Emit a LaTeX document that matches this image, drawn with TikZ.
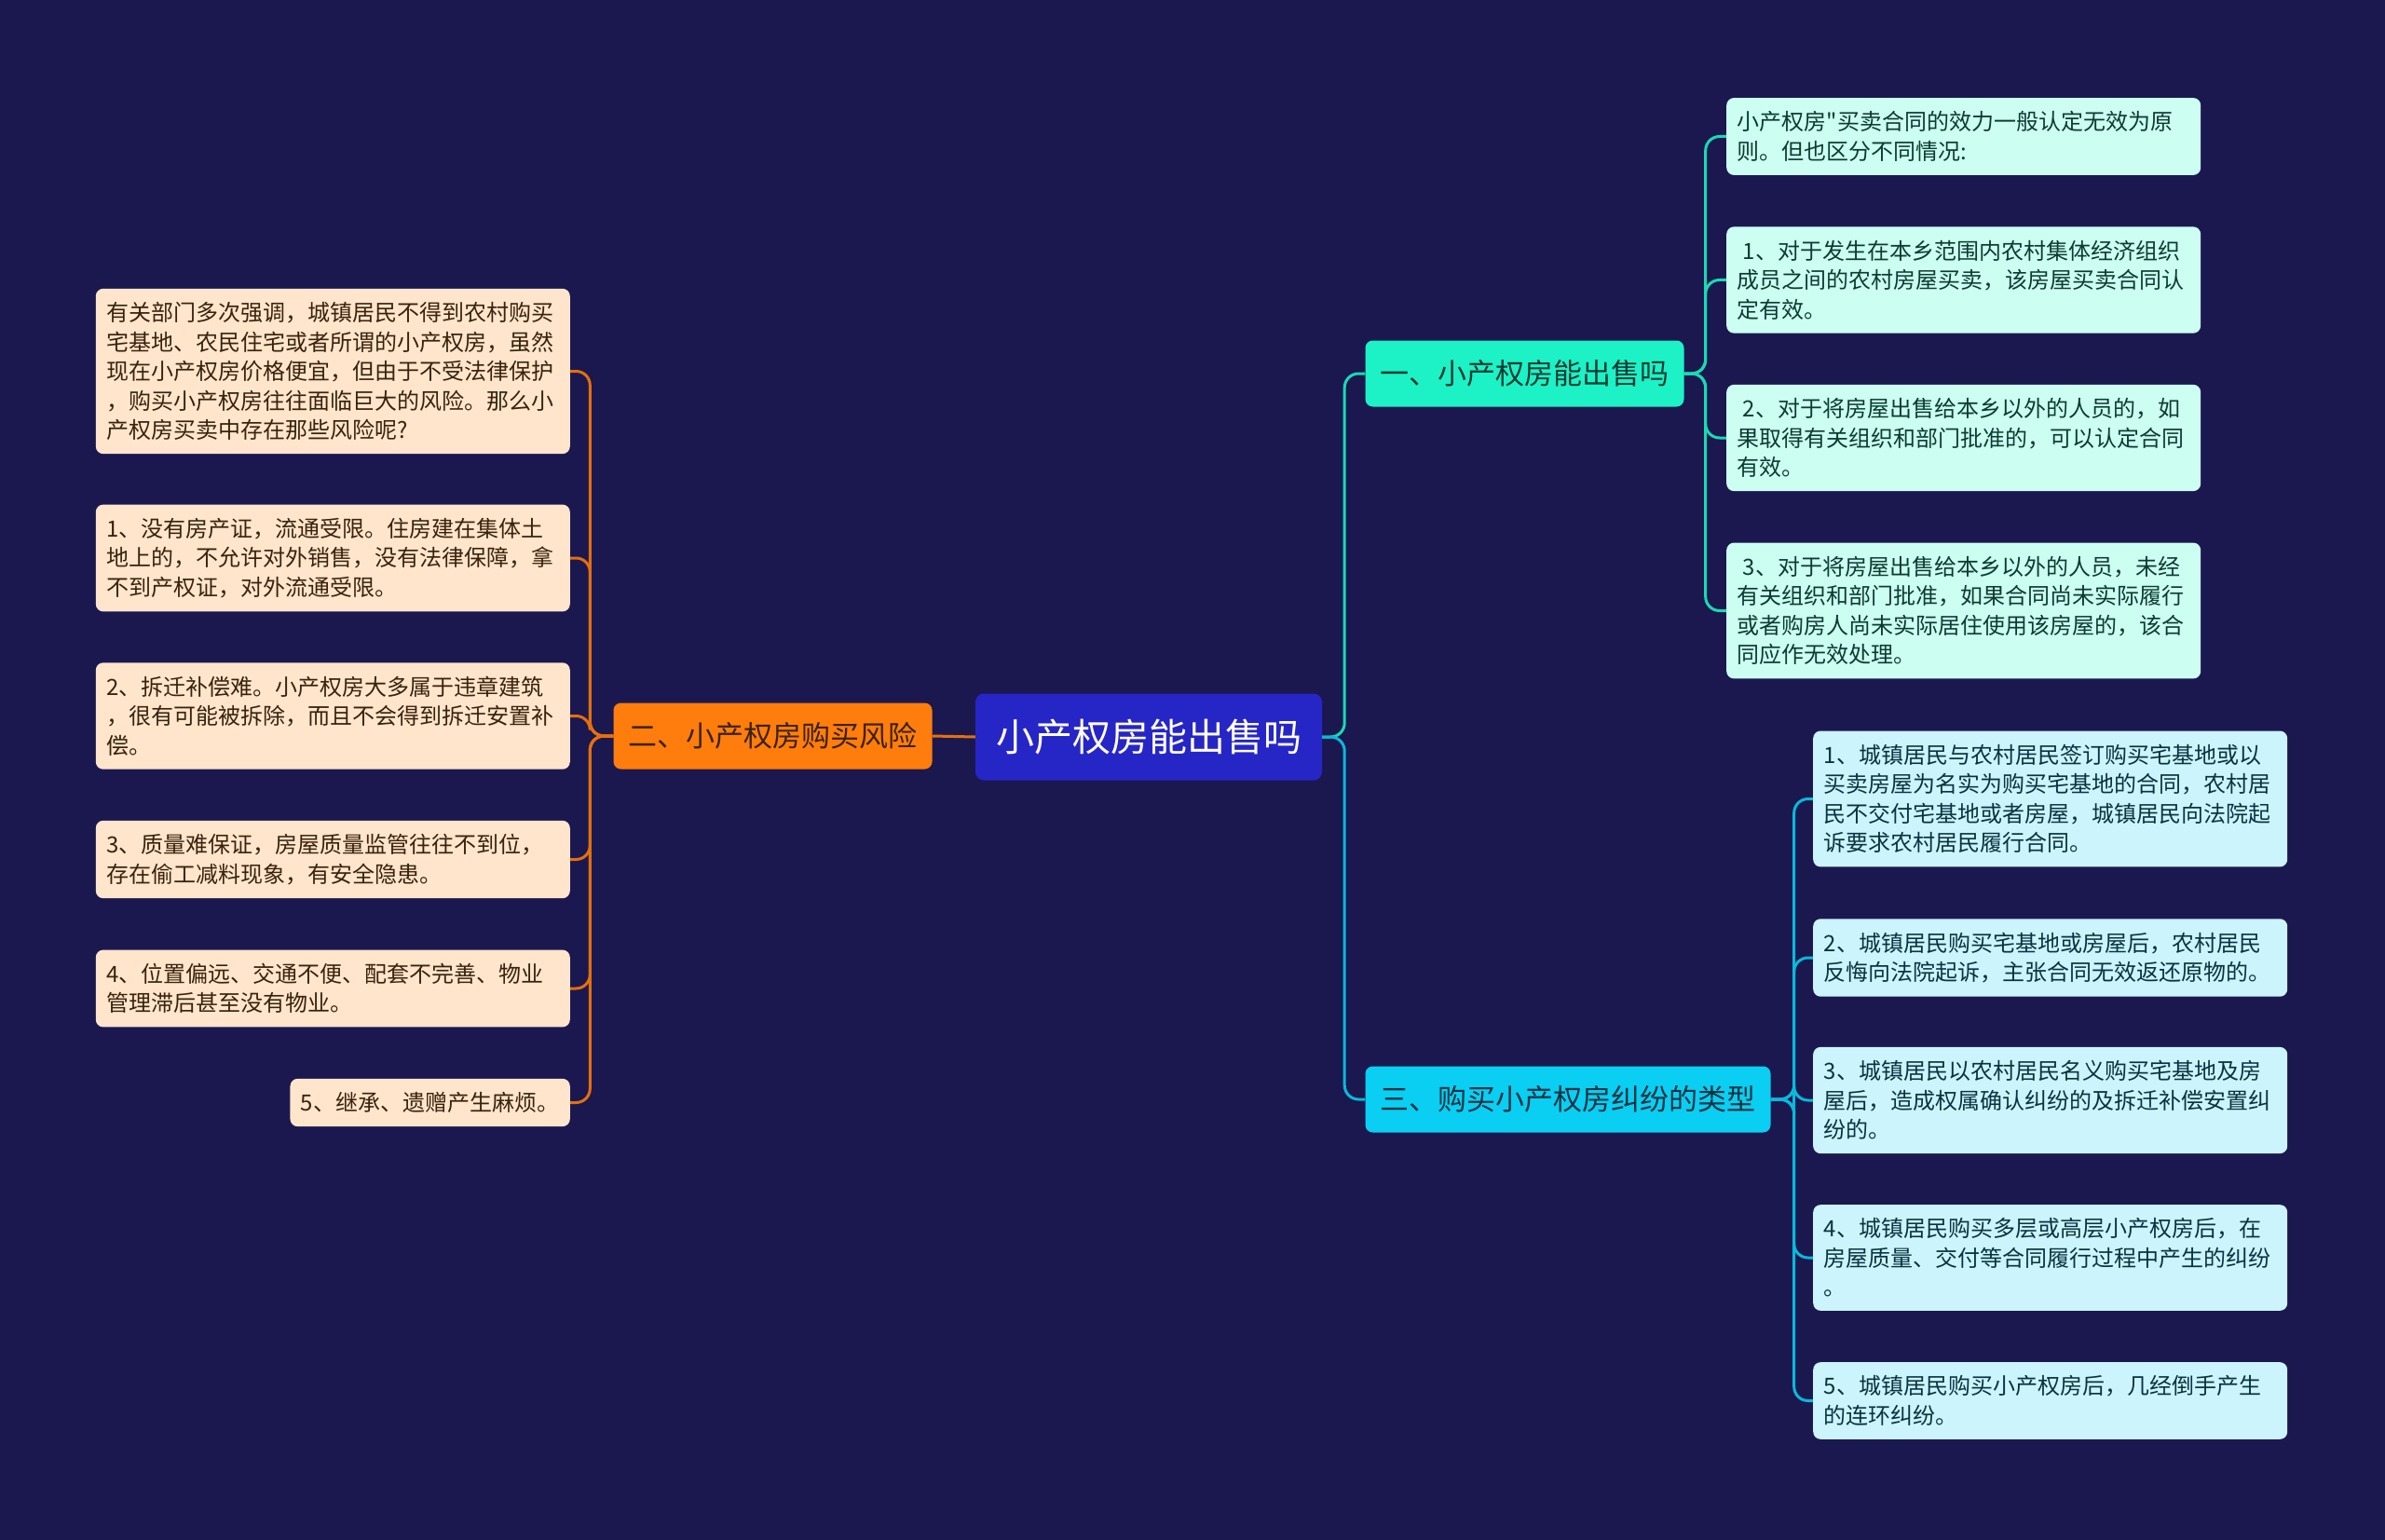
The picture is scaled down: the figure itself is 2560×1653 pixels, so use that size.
\documentclass[tikz,border=0pt]{standalone}
\usepackage{fontspec}
\newfontfamily\cjk{Noto Sans CJK SC}
\definecolor{bg}{HTML}{1B1850}
\definecolor{rootblue}{HTML}{2626C6}
\definecolor{riskorange}{HTML}{FF7D0C}
\definecolor{saleteal}{HTML}{1CF2C6}
\definecolor{typecyan}{HTML}{0ACEF2}
\definecolor{peach}{HTML}{FFE5CC}
\definecolor{mint}{HTML}{CCFFF2}
\definecolor{icecyan}{HTML}{CCF4FC}
\definecolor{browntext}{HTML}{3A220C}
\definecolor{greentext}{HTML}{0D3B32}
\definecolor{bluetext}{HTML}{0A3341}

\begin{document}
\begin{tikzpicture}[x=1pt, y=-1pt,
    root/.style={fill=rootblue, text=white, rounded corners=9pt, inner xsep=22pt,
        minimum height=93pt, font=\cjk\fontsize{41}{45}\selectfont},
    branch/.style={rounded corners=8pt, inner xsep=16pt, minimum height=71pt,
        font=\cjk\fontsize{31}{35}\selectfont},
    leafbox/.style={rounded corners=8pt, inner xsep=11.5pt, inner ysep=14.5pt,
        align=left, font=\cjk\fontsize{24}{31.5}\selectfont},
    wide/.style={leafbox, text width=486pt},
    riskleaf/.style={wide, fill=peach, text=browntext},
    saleleaf/.style={wide, fill=mint, text=greentext},
    typeleaf/.style={wide, fill=icecyan, text=bluetext},
    link/.style={line width=3pt, rounded corners=15pt}
]
    \fill[bg] (0,0) rectangle (2560,1653);

    % centre and first level
    \node[root] (root) at (1233,791) {小产权房能出售吗};
    \node[branch, fill=riskorange, text=browntext] (risk) at (829.5,790) {二、小产权房购买风险};
    \node[branch, fill=saleteal, text=greentext] (sale) at (1636.5,401) {一、小产权房能出售吗};
    \node[branch, fill=typecyan, text=bluetext] (kinds) at (1683,1180) {三、购买小产权房纠纷的类型};

    % left: risks
    \node[riskleaf, anchor=east] (risk0) at (612,398.5) {有关部门多次强调，城镇居民不得到农村购买\\宅基地、农民住宅或者所谓的小产权房，虽然\\现在小产权房价格便宜，但由于不受法律保护\\，购买小产权房往往面临巨大的风险。那么小\\产权房买卖中存在那些风险呢?};
    \node[riskleaf, anchor=east] (risk1) at (612,599) {1、没有房产证，流通受限。住房建在集体土\\地上的，不允许对外销售，没有法律保障，拿\\不到产权证，对外流通受限。};
    \node[riskleaf, anchor=east] (risk2) at (612,768.5) {2、拆迁补偿难。小产权房大多属于违章建筑\\，很有可能被拆除，而且不会得到拆迁安置补\\偿。};
    \node[riskleaf, anchor=east] (risk3) at (612,922.5) {3、质量难保证，房屋质量监管往往不到位，\\存在偷工减料现象，有安全隐患。};
    \node[riskleaf, anchor=east] (risk4) at (612,1061) {4、位置偏远、交通不便、配套不完善、物业\\管理滞后甚至没有物业。};
    \node[leafbox, fill=peach, text=browntext, anchor=east] (risk5) at (612,1183.5) {5、继承、遗赠产生麻烦。};

    % right top: can it be sold
    \node[saleleaf, anchor=west] (sale0) at (1853,146.5) {小产权房"买卖合同的效力一般认定无效为原\\则。但也区分不同情况:};
    \node[saleleaf, anchor=west] (sale1) at (1853,300.5) {\hspace*{6pt}1、对于发生在本乡范围内农村集体经济组织\\成员之间的农村房屋买卖，该房屋买卖合同认\\定有效。};
    \node[saleleaf, anchor=west] (sale2) at (1853,470) {\hspace*{6pt}2、对于将房屋出售给本乡以外的人员的，如\\果取得有关组织和部门批准的，可以认定合同\\有效。};
    \node[saleleaf, anchor=west] (sale3) at (1853,655.5) {\hspace*{6pt}3、对于将房屋出售给本乡以外的人员，未经\\有关组织和部门批准，如果合同尚未实际履行\\或者购房人尚未实际居住使用该房屋的，该合\\同应作无效处理。};

    % right bottom: dispute types
    \node[typeleaf, anchor=west] (kind0) at (1946,857.5) {1、城镇居民与农村居民签订购买宅基地或以\\买卖房屋为名实为购买宅基地的合同，农村居\\民不交付宅基地或者房屋，城镇居民向法院起\\诉要求农村居民履行合同。};
    \node[typeleaf, anchor=west] (kind1) at (1946,1028) {2、城镇居民购买宅基地或房屋后，农村居民\\反悔向法院起诉，主张合同无效返还原物的。};
    \node[typeleaf, anchor=west] (kind2) at (1946,1181) {3、城镇居民以农村居民名义购买宅基地及房\\屋后，造成权属确认纠纷的及拆迁补偿安置纠\\纷的。};
    \node[typeleaf, anchor=west] (kind3) at (1946,1350) {4、城镇居民购买多层或高层小产权房后，在\\房屋质量、交付等合同履行过程中产生的纠纷\\。};
    \node[typeleaf, anchor=west] (kind4) at (1946,1503.5) {5、城镇居民购买小产权房后，几经倒手产生\\的连环纠纷。};

    % connectors
    \draw[link, riskorange!90!black] (root.west) -- (risk.east);
    \foreach \i in {0,...,5}
        \draw[link, riskorange!90!black] (risk.west) -- ++(-25,0) |- (risk\i.east);
    \draw[link, saleteal!90!black] (root.east) -- ++(24,0) |- (sale.west);
    \draw[link, typecyan!90!black] (root.east) -- ++(24,0) |- (kinds.west);
    \foreach \i in {0,...,3}
        \draw[link, saleteal!90!black] (sale.east) -- ++(23,0) |- (sale\i.west);
    \foreach \i in {0,...,4}
        \draw[link, typecyan!90!black] (kinds.east) -- ++(25,0) |- (kind\i.west);
\end{tikzpicture}
\end{document}
